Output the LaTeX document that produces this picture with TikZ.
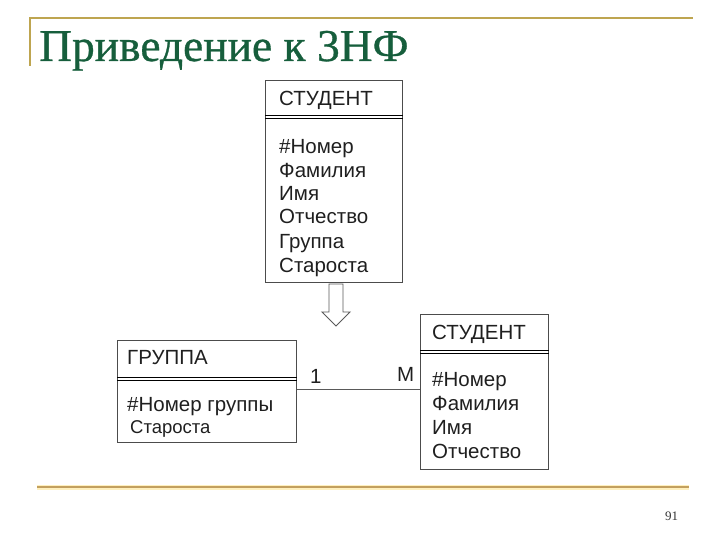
\documentclass[tikz,border=0pt]{standalone}
\usepackage{fontspec}
\setmainfont{Liberation Serif}
\newfontfamily\arialf{Liberation Sans}
\newfontfamily\titlef[FakeBold=0.7]{Liberation Serif}
\begin{document}
\begin{tikzpicture}[x=1pt,y=-1pt,
  box/.style={draw=black!70, line width=1.2pt, rectangle, inner sep=0pt, anchor=north west},
  dbl/.style={line width=0.9pt, draw=black},
  att/.style={anchor=base west, inner sep=0pt, font=\arialf\fontsize{20.5}{24}\selectfont, text=black!88},
  gold/.style={draw={rgb,255:red,190;green,165;blue,80}},
]
\definecolor{titlegreen}{RGB}{22,94,60}
\useasboundingbox (0,0) rectangle (720,540);
% frame lines
\coordinate (tl) at (30,18);
\coordinate (tr) at (693,18);
\coordinate (tb) at (30,66);
\draw[gold, line width=1.6pt] (tb) -- (tl) -- (tr);
\coordinate (bl) at (37,487);
\coordinate (br) at (689,487);
\draw[draw={rgb,255:red,255;green,240;blue,190}, line width=5pt] (bl) -- (br);
\draw[draw={rgb,255:red,195;green,160;blue,95}, line width=2.6pt] (bl) -- (br);
% title
\node[anchor=base west, inner sep=0pt, text=titlegreen, font=\titlef\fontsize{45.5}{52}\selectfont] (title) at (39,61) {Приведение к 3НФ};
\node[anchor=base west, inner sep=0pt, font=\fontsize{13}{15}\selectfont, text=black!80] (pg) at (665,520) {91};
% top student box
\node[box, minimum width=137pt, minimum height=202pt] (s1) at (265,80) {};
\draw[dbl] ([yshift=-35pt]s1.north west) -- ([yshift=-35pt]s1.north east);
\draw[dbl] ([yshift=-38.5pt]s1.north west) -- ([yshift=-38.5pt]s1.north east);
\node[att] (s1h) at (279,106) {СТУДЕНТ};
\node[att] (s1a) at (279,154) {\#Номер};
\node[att] (s1b) at (279,178) {Фамилия};
\node[att] (s1c) at (279,201) {Имя};
\node[att] (s1d) at (279,224) {Отчество};
\node[att] (s1e) at (279,248) {Группа};
\node[att] (s1f) at (279,272) {Староста};
% hollow arrow
\coordinate (ar) at (336,284);
\draw[draw=black!65, line width=0.9pt, fill=white]
  ([xshift=-7pt]ar) -- ([xshift=-7pt,yshift=-28pt]ar) -- ([xshift=-14pt,yshift=-28pt]ar)
  -- ([yshift=-42pt]ar) -- ([xshift=14pt,yshift=-28pt]ar) -- ([xshift=7pt,yshift=-28pt]ar)
  -- ([xshift=7pt]ar) -- cycle;
% group box
\node[box, minimum width=179pt, minimum height=102pt] (g) at (117,340) {};
\draw[dbl] ([yshift=-37pt]g.north west) -- ([yshift=-37pt]g.north east);
\draw[dbl] ([yshift=-40pt]g.north west) -- ([yshift=-40pt]g.north east);
\node[att] (gh) at (127,364) {ГРУППА};
\node[att] (ga) at (127,411) {\#Номер группы};
\node[att, fill=white, inner sep=1pt, font=\arialf\fontsize{18.5}{22}\selectfont] (gb) at (129,433) {Староста};
% right student box
\node[box, minimum width=128pt, minimum height=155pt] (s2) at (420,314) {};
\draw[dbl] ([yshift=-36pt]s2.north west) -- ([yshift=-36pt]s2.north east);
\draw[dbl] ([yshift=-39pt]s2.north west) -- ([yshift=-39pt]s2.north east);
\node[att] (s2h) at (432,339) {СТУДЕНТ};
\node[att] (s2a) at (432,386) {\#Номер};
\node[att] (s2b) at (432,410) {Фамилия};
\node[att] (s2c) at (432,434) {Имя};
\node[att] (s2d) at (432,458) {Отчество};
% connector
\draw[draw=black!65, line width=1pt] ([yshift=2pt]g.east) -- ([yshift=2pt]g.east -| s2.west);
\node[att] (one) at (310,383) {1};
\node[att] (many) at (397,381) {M};
\end{tikzpicture}
\end{document}
